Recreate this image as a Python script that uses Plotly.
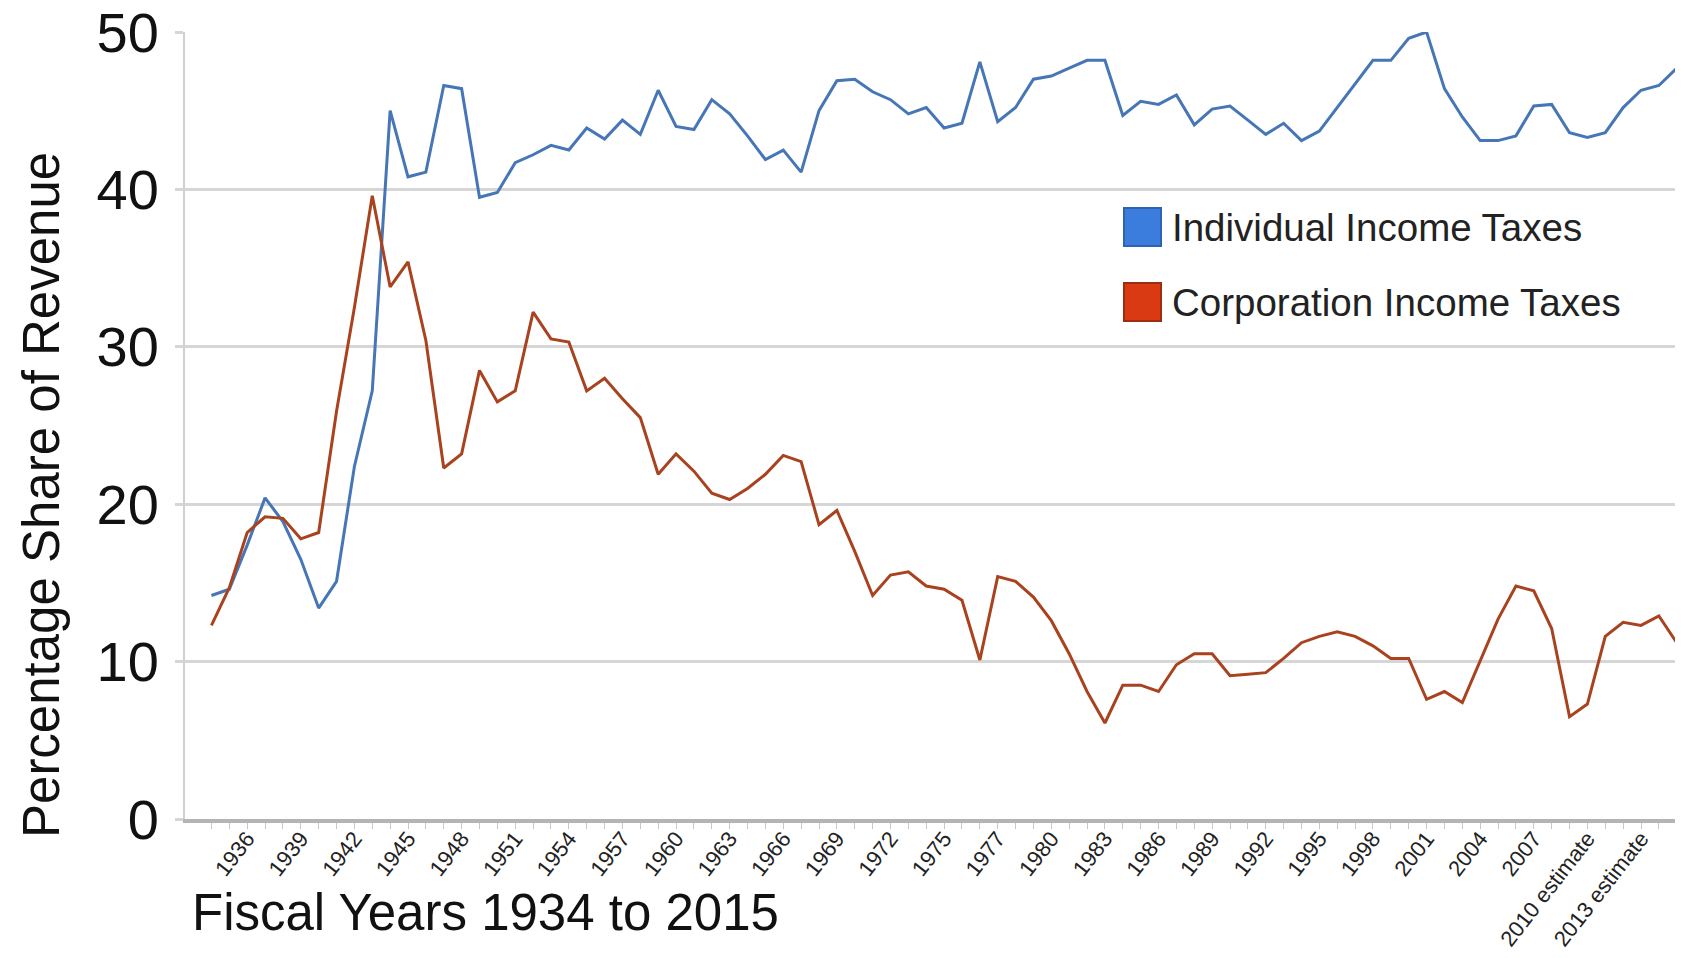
import plotly.graph_objects as go

# ---- data -------------------------------------------------------------
years = [str(y) for y in range(1934, 1977)] + ["TQ"] + [str(y) for y in range(1977, 2010)] + \
        [f"{y} estimate" for y in range(2010, 2016)]

individual = [14.2, 14.6, 17.4, 20.4, 18.9, 16.5, 13.4, 15.1, 22.4, 27.2,
              45.0, 40.8, 41.1, 46.6, 46.4, 39.5, 39.8, 41.7, 42.2, 42.8,
              42.5, 43.9, 43.2, 44.4, 43.5, 46.3, 44.0, 43.8, 45.7, 44.8,
              43.4, 41.9, 42.5, 41.1, 45.0, 46.9, 47.0, 46.2, 45.7, 44.8,
              45.2, 43.9, 44.2, 48.1, 44.3, 45.2, 47.0, 47.2, 47.7, 48.2,
              48.2, 44.7, 45.6, 45.4, 46.0, 44.1, 45.1, 45.3, 44.4, 43.5,
              44.2, 43.1, 43.7, 45.2, 46.7, 48.2, 48.2, 49.6, 50.0, 46.4,
              44.6, 43.1, 43.1, 43.4, 45.3, 45.4, 43.6, 43.3, 43.6, 45.2,
              46.3, 46.6, 47.7]

corporation = [12.3, 14.7, 18.2, 19.2, 19.1, 17.8, 18.2, 25.9, 32.5, 39.6,
               33.8, 35.4, 30.4, 22.3, 23.2, 28.5, 26.5, 27.2, 32.2, 30.5,
               30.3, 27.2, 28.0, 26.7, 25.5, 21.9, 23.2, 22.1, 20.7, 20.3,
               21.0, 21.9, 23.1, 22.7, 18.7, 19.6, 17.0, 14.2, 15.5, 15.7,
               14.8, 14.6, 13.9, 10.1, 15.4, 15.1, 14.1, 12.6, 10.5, 8.1,
               6.1, 8.5, 8.5, 8.1, 9.8, 10.5, 10.5, 9.1, 9.2, 9.3,
               10.2, 11.2, 11.6, 11.9, 11.6, 11.0, 10.2, 10.2, 7.6, 8.1,
               7.4, 10.0, 12.7, 14.8, 14.5, 12.1, 6.5, 7.3, 11.6, 12.5,
               12.3, 12.9, 11.2]

tick_labels = [y if i % 3 == 2 else "" for i, y in enumerate(years)]
y_ticks = [0, 10, 20, 30, 40, 50]

series_names = ["Individual Income Taxes", "Corporation Income Taxes"]
line_colors = ["#4676b6", "#a9421f"]
swatch_colors = ["#3b7ddd", "#d93a14"]
swatch_borders = ["#2f62b0", "#9c2d12"]

FONT = "Arial, Liberation Sans, sans-serif"

# ---- figure -------------------------------------------------------------
fig = go.Figure()
for name, vals, col in zip(series_names, [individual, corporation], line_colors):
    fig.add_trace(go.Scatter(x=years, y=vals, mode="lines", name=name,
                             line=dict(color=col, width=3), showlegend=False))

# page body has an 8px default margin; figure sized/offset to compensate
W, H = 1675, 950
ml, mr, mt, mb = 177, 0, 24, 139
PLOT_L, PLOT_B = 185, 819          # plot-area left / bottom in page pixels
pw = W - ml - mr
ph = H - mt - mb

def px_x(px):
    return (px - PLOT_L) / pw

def px_y(py):
    return (PLOT_B - py) / ph

fig.update_layout(
    width=W, height=H,
    margin=dict(l=ml, r=mr, t=mt, b=mb, autoexpand=False),
    paper_bgcolor="white", plot_bgcolor="white",
    font=dict(family=FONT, color="#1a1a1a"),
    xaxis=dict(
        type="category", automargin=False,
        categoryorder="array", categoryarray=years,
        range=[-1.48, 82.35],
        tickmode="array", tickvals=years, ticktext=tick_labels,
        tickangle=-52, tickfont=dict(size=22, color="#222222"),
        ticks="outside", ticklen=6, tickwidth=1, tickcolor="#c8c8c8",
        ticklabelstandoff=-12,
        showgrid=False, showline=True, linecolor="#b4b4b4", linewidth=4,
        zeroline=False,
    ),
    yaxis=dict(
        range=[0, 50], automargin=False,
        tickmode="array", tickvals=y_ticks,
        tickfont=dict(size=56, color="#111111"),
        ticks="outside", ticklen=8, tickcolor="#d6d6d6", tickwidth=3,
        ticklabelstandoff=5, ticklabeloverflow="allow",
        showgrid=True, gridcolor="#d6d6d6", gridwidth=3,
        showline=True, linecolor="#d0d0d0", linewidth=2,
        zeroline=False,
    ),
)

# axis titles
fig.add_annotation(text="Fiscal Years 1934 to 2015", xref="paper", yref="paper",
                   x=px_x(190), y=px_y(912), xanchor="left", yanchor="middle",
                   showarrow=False, font=dict(size=51, color="#111111", family=FONT))
fig.add_annotation(text="Percentage Share of Revenue", xref="paper", yref="paper",
                   x=px_x(41), y=px_y(495), xanchor="center", yanchor="middle",
                   textangle=-90, showarrow=False,
                   font=dict(size=51, color="#111111", family=FONT))

# legend (swatches + labels)
legend_rows = [227, 302]
for name, fill, border, cy in zip(series_names, swatch_colors, swatch_borders, legend_rows):
    fig.add_shape(type="rect", xref="paper", yref="paper",
                  x0=px_x(1124), x1=px_x(1161), y0=px_y(cy + 19), y1=px_y(cy - 19),
                  fillcolor=fill, line=dict(color=border, width=2))
    fig.add_annotation(text=name, xref="paper", yref="paper",
                       x=px_x(1170), y=px_y(cy), xanchor="left", yanchor="middle",
                       showarrow=False, font=dict(size=38.5, color="#222222", family=FONT))

fig.write_html("out.html")
